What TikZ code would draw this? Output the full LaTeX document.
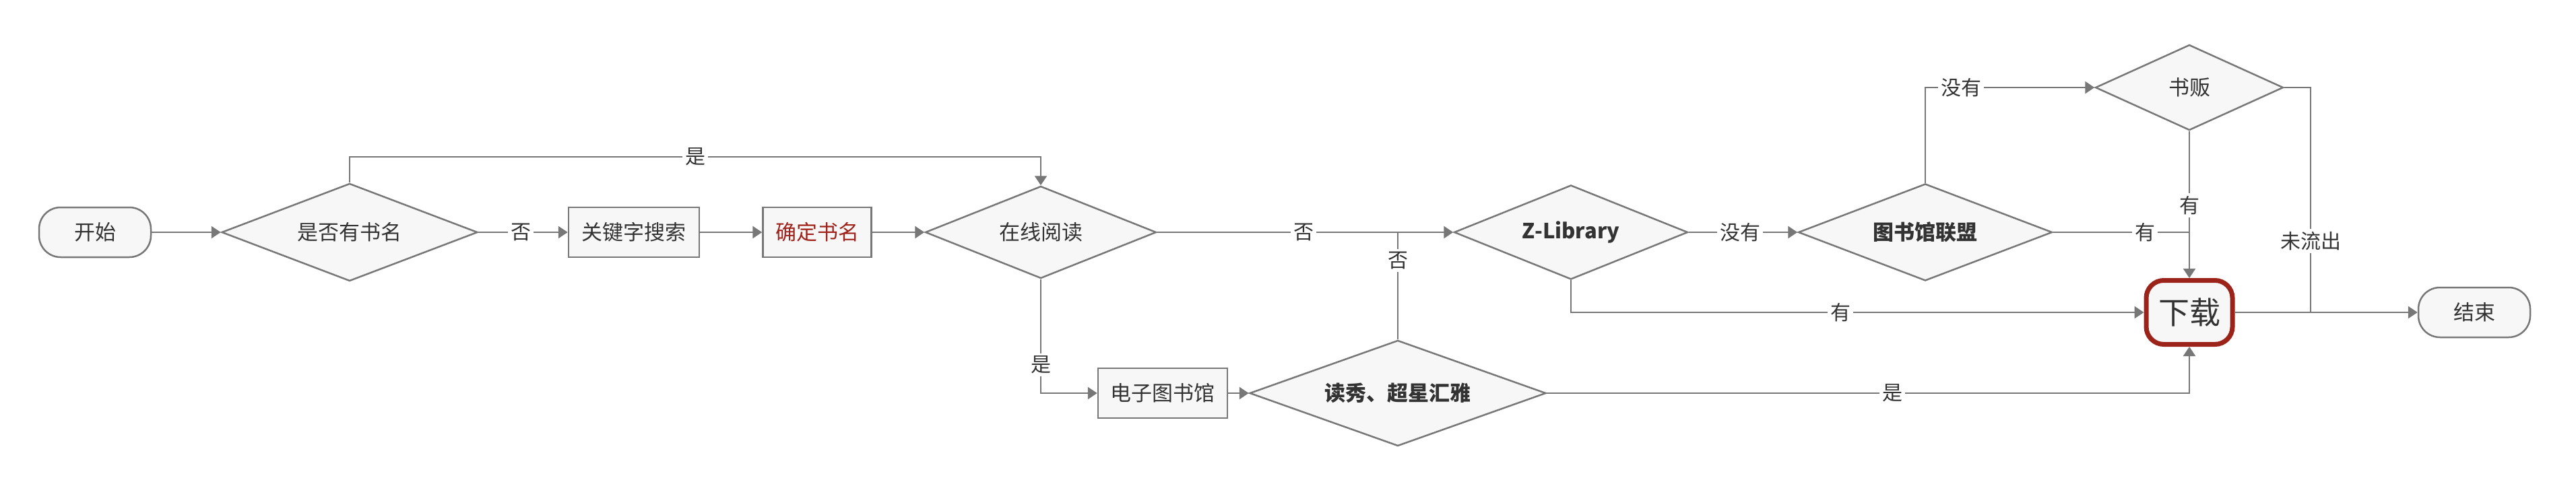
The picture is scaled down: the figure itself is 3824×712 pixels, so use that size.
\documentclass[tikz,border=0pt]{standalone}
\usepackage{fontspec}
\setmainfont{Noto Sans CJK SC}
\usetikzlibrary{shapes.geometric,arrows.meta}
\definecolor{ln}{HTML}{777777}
\definecolor{fl}{HTML}{F7F7F7}
\definecolor{tx}{HTML}{333333}
\definecolor{dred}{HTML}{9B2319}
\definecolor{rtx}{HTML}{A0231B}
\begin{document}
\begin{tikzpicture}[x=1pt,y=-1pt,
  base/.style={draw=ln, fill=fl, line width=2.5pt, inner sep=0pt, text=tx,
    font=\fontsize{31}{36}\selectfont},
  term/.style={base, rounded corners=32pt, minimum width=166pt, minimum height=74pt},
  proc/.style={base, minimum height=74pt},
  dia/.style={base, diamond},
  txt/.style={inner sep=0pt, text=tx, font=\fontsize{31}{36}\selectfont},
  btxt/.style={txt, font=\fontsize{31}{36}\selectfont\bfseries},
  conn/.style={draw=ln, line width=2.5pt},
  arr/.style={conn, -{Triangle[length=14pt,width=18pt]}},
  lab/.style={fill=white, inner sep=4pt, text=tx, font=\fontsize{30}{34}\selectfont},
  dlbox/.style={draw=dred, fill=fl, line width=7pt, rounded corners=26pt,
    minimum width=128pt, minimum height=95pt, inner sep=0pt, text=tx,
    font=\fontsize{46}{52}\selectfont}
]
\useasboundingbox (0,0) rectangle (3824,712);

% nodes
\node[term] (start) at (141,345) {开始};
\node[dia, minimum width=380pt, minimum height=145pt] (q1) at (519,345) {};
\node[txt] (q1t) at (q1.center) {是否有书名};
\node[proc, minimum width=194pt] (kw) at (941,345) {关键字搜索};
\node[proc, minimum width=161pt, text=rtx] (name) at (1213,345) {确定书名};
\node[dia, minimum width=343pt, minimum height=137pt] (online) at (1545,345) {};
\node[txt] (onlinet) at (online.center) {在线阅读};
\node[proc, minimum width=192pt] (elib) at (1726,584) {电子图书馆};
\node[dia, minimum width=440pt, minimum height=157pt] (dx) at (2075,584) {};
\node[btxt] (dxt) at (dx.center) {读秀、超星汇雅};
\node[dia, minimum width=347pt, minimum height=140pt] (zlib) at (2332,345) {};
\node[btxt] (zlibt) at (zlib.center) {Z-Library};
\node[dia, minimum width=377pt, minimum height=144pt] (lib) at (2858,345) {};
\node[btxt] (libt) at (lib.center) {图书馆联盟};
\node[dia, minimum width=279pt, minimum height=127pt] (seller) at (3250,130) {};
\node[txt] (sellert) at (seller.center) {书贩};
\node[dlbox] (dl) at (3250,464) {下载};
\node[term] (end) at (3673,464) {结束};

\coordinate (topy) at (1000,233);
\coordinate (j2) at (3430,464);

% connectors
\draw[arr] (start.east) -- (q1.west);
\draw[arr] (q1.east) -- (kw.west);
\draw[arr] (kw.east) -- (name.west);
\draw[arr] (name.east) -- (online.west);
\draw[arr] (q1.north) |- (topy) -| (online.north);
\draw[arr] (online.south) |- (elib.west);
\draw[arr] (online.east) -- (zlib.west);
\draw[arr] (elib.east) -- (dx.west);
\draw[conn] (dx.north) -- (dx.north |- online.east);
\draw[arr] (zlib.east) -- (lib.west);
\draw[arr] (zlib.south) |- (dl.west);
\draw[arr] (dx.east) -| (dl.south);
\draw[arr] (lib.north) |- (seller.west);
\draw[arr] (seller.south) -- (dl.north);
\draw[conn] (lib.east) -- (lib.east -| dl.north);
\draw[arr] (dl.east) -- (end.west);
\draw[conn] (seller.east) -| (j2);

% labels
\node[lab] (l1) at (773,345) {否};
\node[lab] (l2) at (1032,233) {是};
\node[lab] (l3) at (1545,542) {是};
\node[lab] (l4) at (1935,345) {否};
\node[lab] (l5) at (2075,387) {否};
\node[lab] (l6) at (2583,345) {没有};
\node[lab] (l7) at (2732,464) {有};
\node[lab] (l8) at (2809,584) {是};
\node[lab] (l9) at (2911,130) {没有};
\node[lab] (l10) at (3250,305) {有};
\node[lab] (l11) at (3184,345) {有};
\node[lab] (l12) at (3430,358) {未流出};
\end{tikzpicture}
\end{document}
